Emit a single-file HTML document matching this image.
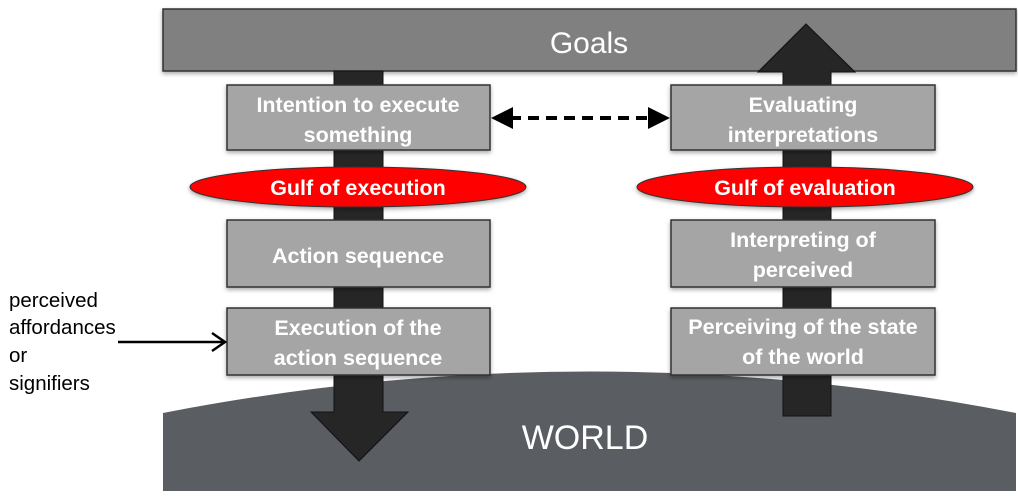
<!DOCTYPE html>
<html><head><style>body{margin:0;background:#fff;width:1018px;height:491px;overflow:hidden}</style></head><body>
<svg width="1018" height="491" viewBox="0 0 1018 491" xmlns="http://www.w3.org/2000/svg" font-family="Liberation Sans, sans-serif">
<defs><filter id="s" x="-10%" y="-10%" width="120%" height="130%"><feDropShadow dx="0" dy="2" stdDeviation="2" flood-opacity="0.35"/></filter></defs>
<path d="M163,413 Q590,330 1016,413 L1016,491 L163,491 Z" fill="#5a5d61"/>
<text x="585" y="449" font-size="34" fill="#fff" text-anchor="middle">WORLD</text>
<rect x="163" y="9" width="853" height="62" fill="#808080" stroke="#333" stroke-width="1.5" filter="url(#s)"/>
<text x="589" y="53" font-size="30" fill="#fff" text-anchor="middle">Goals</text>
<path d="M334,71 L383,71 L383,412 L408,412 L359,461 L311,412 L334,412 Z" fill="#262626" stroke="#111"/>
<path d="M783,416 L831,416 L831,72 L855,72 L806,24 L758,72 L783,72 Z" fill="#262626" stroke="#111"/>
<g fill="#a5a5a5" stroke="#333" stroke-width="1.5" filter="url(#s)">
<rect x="227" y="85" width="263" height="65"/><rect x="227" y="220" width="263" height="67"/><rect x="227" y="308" width="263" height="67"/>
<rect x="671" y="85" width="264" height="65"/><rect x="671" y="220" width="264" height="67"/><rect x="671" y="308" width="264" height="67"/>
</g>
<g fill="red" stroke="#333" filter="url(#s)">
<ellipse cx="358" cy="187" rx="168" ry="20"/><ellipse cx="805" cy="187" rx="168" ry="20"/>
</g>
<g fill="#fff" font-weight="bold" font-size="21.5" text-anchor="middle">
<text x="358" y="112">Intention to execute</text><text x="358" y="142">something</text>
<text x="358" y="195">Gulf of execution</text>
<text x="358" y="263">Action sequence</text>
<text x="358" y="335">Execution of the</text><text x="358" y="365">action sequence</text>
<text x="803" y="112">Evaluating</text><text x="803" y="142">interpretations</text>
<text x="805" y="195">Gulf of evaluation</text>
<text x="803" y="247">Interpreting of</text><text x="803" y="277">perceived</text>
<text x="803" y="334">Perceiving of the state</text><text x="803" y="364">of the world</text>
</g>
<line x1="510" y1="118" x2="650" y2="118" stroke="#000" stroke-width="4" stroke-dasharray="11,7"/>
<path d="M491,118 L513,107 L513,129 Z M670,118 L648,107 L648,129 Z" fill="#000"/>
<line x1="118" y1="342" x2="224" y2="342" stroke="#000" stroke-width="2.5"/>
<path d="M212,333 L225,342 L212,351" fill="none" stroke="#000" stroke-width="2.5"/>
<g font-size="20.5" fill="#000"><text x="9" y="307">perceived</text><text x="9" y="334">affordances</text><text x="9" y="362">or</text><text x="9" y="390">signifiers</text></g>
</svg>
</body></html>
